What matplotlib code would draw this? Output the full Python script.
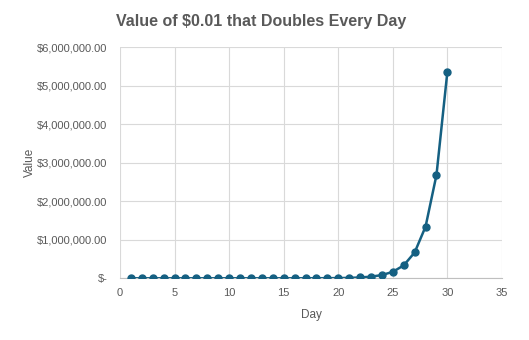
import numpy as np
import matplotlib.pyplot as plt
from matplotlib.ticker import FuncFormatter

days = list(range(1, 31))
values = [0.01, 0.02, 0.04, 0.08, 0.16, 0.32, 0.64, 1.28, 2.56, 5.12,
          10.24, 20.48, 40.96, 81.92, 163.84, 327.68, 655.36, 1310.72,
          2621.44, 5242.88, 10485.76, 20971.52, 41943.04, 83886.08,
          167772.16, 335544.32, 671088.64, 1342177.28, 2684354.56,
          5368709.12]

plt.rcParams['font.family'] = ['Liberation Sans', 'DejaVu Sans']
grey = "#595959"

fig = plt.figure(figsize=(5.29, 3.4), dpi=100)
ax = fig.add_axes([0.2268, 0.1815, 0.7221, 0.6796])

ax.plot(days, values, "-o", color="#156082", lw=1.8, ms=5, zorder=3)

ax.set_xlim(0, 35)
ax.set_ylim(0, 6000000)
ax.set_xticks(range(0, 36, 5))
ax.set_yticks(range(0, 6000001, 1000000))

def money(v, pos):
    if v == 0:
        return "$-"
    return "${:,.2f}".format(v)

ax.yaxis.set_major_formatter(FuncFormatter(money))
ax.grid(True, color="#d9d9d9", lw=0.8)
ax.set_axisbelow(True)
for s in ["top", "right", "left"]:
    ax.spines[s].set_visible(False)
ax.spines["bottom"].set_color("#bfbfbf")
ax.tick_params(axis="y", length=0, labelsize=8, colors=grey, pad=9)
ax.tick_params(axis="x", length=0, labelsize=8, colors=grey, pad=7)

fig.suptitle("Value of $0.01 that Doubles Every Day", fontsize=11.5,
             fontweight="bold", color=grey, x=0.494, y=0.96)
ax.set_xlabel("Day", fontsize=8.5, color=grey, labelpad=8)
ax.set_ylabel("Value", fontsize=8.5, color=grey, labelpad=1)

fig.savefig("out.png", dpi=100)
